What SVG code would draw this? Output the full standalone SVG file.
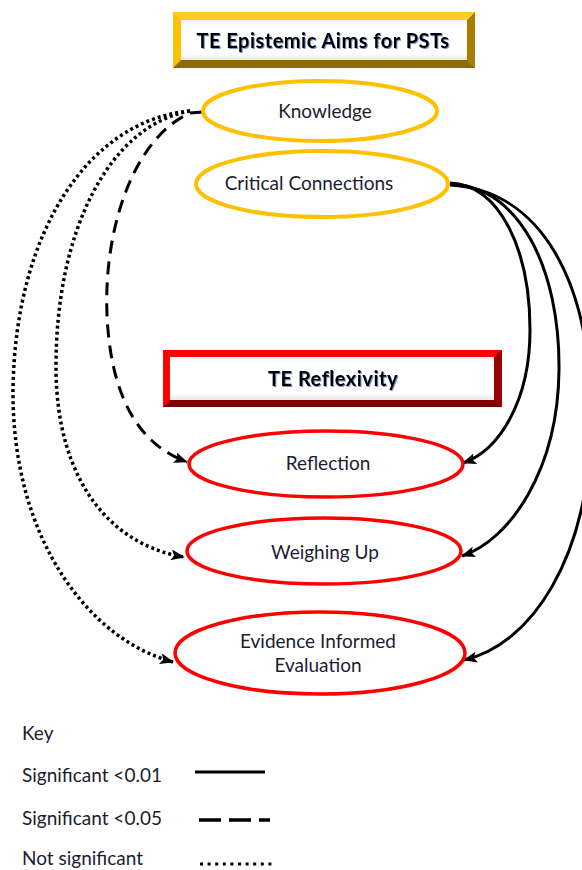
<svg xmlns="http://www.w3.org/2000/svg" width="582" height="870" viewBox="0 0 582 870">
  <style>
    .lbl { font-family: Lato, "Liberation Sans", Arial, sans-serif; font-size: 19px; fill: #1c1c30; text-anchor: middle; }
    .ttl { font-family: Lato, "Liberation Sans", Arial, sans-serif; font-size: 20px; letter-spacing: 0.5px; font-weight: bold; fill: #000; text-anchor: middle; filter: url(#glow); }
    .key { font-family: Lato, "Liberation Sans", Arial, sans-serif; font-size: 19px; fill: #1c1c30; }
    .aim { fill: #fff; stroke: #FFC000; stroke-width: 4; }
    .refl { fill: #fff; stroke: #FF0000; stroke-width: 3.5; }
    .edge { fill: none; stroke: #000; stroke-width: 3; }
    .dash { stroke-dasharray: 13 8; }
    .dot { stroke-dasharray: 3 3; stroke-width: 3.5; }
    .arrow { marker-end: url(#ah); }
  </style>
  <defs>
    <marker id="ah" markerWidth="14" markerHeight="11" refX="13" refY="5.5" orient="auto" markerUnits="userSpaceOnUse">
      <path d="M0,0 L14,5.5 L0,11 L3,5.5 Z" fill="#000"/>
    </marker>
    <filter id="glow" x="-10%" y="-30%" width="120%" height="160%">
      <feDropShadow dx="1" dy="1" stdDeviation="0.7" flood-color="#2b4a9c" flood-opacity="0.6"/>
    </filter>
    <linearGradient id="innerShade" x1="0" y1="0" x2="0" y2="1">
      <stop offset="0" stop-color="#f2f2f2"/>
      <stop offset="0.15" stop-color="#ffffff"/>
      <stop offset="0.85" stop-color="#ffffff"/>
      <stop offset="1" stop-color="#e6e6e6"/>
    </linearGradient>
  </defs>

  <rect width="582" height="870" fill="#fff"/>

  <!-- connectors -->
  <g id="connectors">
    <!-- Critical Connections to reflexivity nodes (p < 0.01) -->
    <path class="edge arrow" d="M450,183 C500,185 530,250 530,330 C530,400 500,450 463,463"/>
    <path class="edge arrow" d="M450,184 C520,186 560,270 559,370 C558,470 510,540 462,556"/>
    <path class="edge arrow" d="M450,185 C540,190 592,280 591,420 C590,560 530,645 464,660"/>
    <!-- Knowledge to Reflection (p < 0.05) -->
    <path class="edge dash arrow" d="M203,112 L190,113 C130,140 100,240 108,330 C114,400 140,445 187,462"/>
    <!-- Knowledge to Weighing Up and Evaluation (n.s.) -->
    <path class="edge dot arrow" d="M190,111 C110,125 55,230 56,370 C57,480 110,545 184,557"/>
    <path class="edge dot arrow" d="M190,111 C90,120 15,230 13,390 C12,540 90,640 173,662"/>
  </g>

  <!-- heading: epistemic aims -->
  <g id="title-aims">
    <rect x="173" y="12" width="302" height="56" fill="#FFC000"/>
    <polygon points="475,12 475,68 467,60 467,20" fill="#A87E00"/>
    <polygon points="173,68 475,68 467,60 181,60" fill="#8E6A00"/>
    <polygon points="173,12 475,12 467,20 181,20" fill="#FFCC26"/>
    <rect x="181" y="20" width="286" height="40" fill="url(#innerShade)"/>
    <text class="ttl" x="323" y="48">TE Epistemic Aims for PSTs</text>
  </g>

  <g id="knowledge">
    <ellipse class="aim" cx="320" cy="111" rx="117" ry="30"/>
    <text class="lbl" x="325" y="118">Knowledge</text>
  </g>

  <g id="critical-connections">
    <ellipse class="aim" cx="322" cy="184" rx="126" ry="33"/>
    <text class="lbl" x="309" y="190">Critical Connections</text>
  </g>

  <!-- heading: reflexivity -->
  <g id="title-reflexivity">
    <rect x="163" y="350" width="339" height="57" fill="#FF0000"/>
    <polygon points="502,350 502,407 494,400 494,357" fill="#9A0000"/>
    <polygon points="163,407 502,407 494,400 170,400" fill="#7E0000"/>
    <rect x="170" y="357" width="324" height="43" fill="url(#innerShade)"/>
    <text class="ttl" x="333" y="386">TE Reflexivity</text>
  </g>

  <g id="reflection">
    <ellipse class="refl" cx="326" cy="464" rx="137" ry="33"/>
    <text class="lbl" x="328" y="470">Reflection</text>
  </g>

  <g id="weighing-up">
    <ellipse class="refl" cx="324" cy="551" rx="137" ry="33"/>
    <text class="lbl" x="325" y="559">Weighing Up</text>
  </g>

  <g id="evidence-informed-evaluation">
    <ellipse class="refl" cx="320" cy="653" rx="145" ry="41" stroke-width="5"/>
    <text class="lbl" x="318" y="648">Evidence Informed</text>
    <text class="lbl" x="318" y="672">Evaluation</text>
  </g>

  <!-- key -->
  <g id="key">
    <text class="key" x="22" y="740">Key</text>
    <text class="key" x="22" y="782">Significant &lt;0.01</text>
    <line x1="195" y1="772" x2="265" y2="772" stroke="#000" stroke-width="3"/>
    <text class="key" x="22" y="825">Significant &lt;0.05</text>
    <line x1="199" y1="820" x2="270" y2="820" stroke="#000" stroke-width="3.5" stroke-dasharray="22 8"/>
    <text class="key" x="22" y="865">Not significant</text>
    <line x1="200" y1="864" x2="273" y2="864" stroke="#000" stroke-width="3" stroke-dasharray="3 4.6"/>
  </g>
</svg>
